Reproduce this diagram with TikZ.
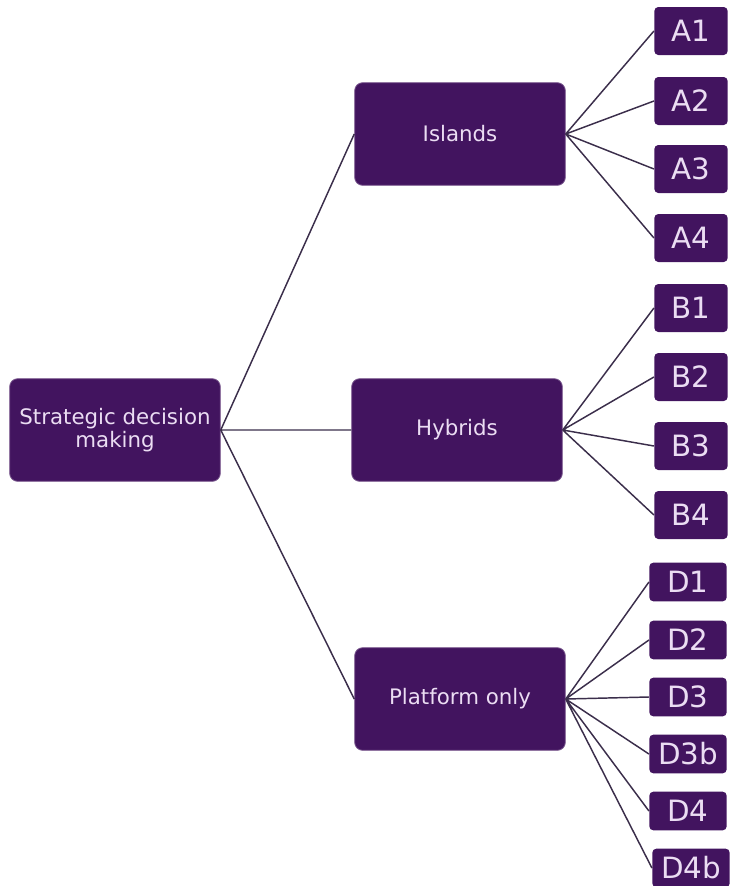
\documentclass[tikz,border=0pt]{standalone}
\usepackage{fontspec}
\setmainfont{DejaVu Sans}
\usetikzlibrary{positioning}
\definecolor{boxpurple}{HTML}{42145F}
\definecolor{boxtext}{HTML}{EBDDF3}
\definecolor{linkcol}{HTML}{3B2E4B}

\begin{document}
\begin{tikzpicture}[x=0.75pt,y=-0.75pt, semithick,
    mainbox/.style={rectangle,rounded corners=6pt,fill=boxpurple,draw=boxpurple!70!white,
      text=boxtext,minimum width=158pt,minimum height=77pt,align=center,inner sep=2pt,
      font=\fontsize{16}{17.5}\selectfont},
    leafbox/.style={rectangle,rounded corners=3pt,fill=boxpurple,text=boxtext,
      minimum width=55pt,minimum height=36pt,inner sep=1pt,font=\fontsize{22}{22}\selectfont},
    dbox/.style={leafbox,minimum width=58pt,minimum height=29pt},
    link/.style={draw=linkcol,line width=1.1pt}]
    \useasboundingbox (0,0) rectangle (729,886);
    \node [mainbox] (root) at (115,430) {Strategic decision\\making};
    \node [mainbox] (islands) at (460,134) {Islands};
    \node [mainbox] (hybrids) at (457,430) {Hybrids};
    \node [mainbox] (platform) at (460,699) {Platform only};
    % islands
    \node [leafbox] (a1) at (691,31) {A1};
    \node [leafbox] (a2) at (691,101) {A2};
    \node [leafbox] (a3) at (691,169) {A3};
    \node [leafbox] (a4) at (691,238) {A4};
    % hybrids
    \node [leafbox] (b1) at (691,308) {B1};
    \node [leafbox] (b2) at (691,377) {B2};
    \node [leafbox] (b3) at (691,446) {B3};
    \node [leafbox] (b4) at (691,515) {B4};
    % platform only
    \node [dbox] (d1) at (688,582) {D1};
    \node [dbox] (d2) at (688,640) {D2};
    \node [dbox] (d3) at (688,697) {D3};
    \node [dbox] (d3b) at (688,754) {D3b};
    \node [dbox] (d4) at (688,811) {D4};
    \node [dbox] (d4b) at (691,868) {D4b};
    \path [link]
    (root.east) -- (islands.west)
    (root.east) -- (hybrids.west)
    (root.east) -- (platform.west)
    (islands.east) -- (a1.west)
    (islands.east) -- (a2.west)
    (islands.east) -- (a3.west)
    (islands.east) -- (a4.west)
    (hybrids.east) -- (b1.west)
    (hybrids.east) -- (b2.west)
    (hybrids.east) -- (b3.west)
    (hybrids.east) -- (b4.west)
    (platform.east) -- (d1.west)
    (platform.east) -- (d2.west)
    (platform.east) -- (d3.west)
    (platform.east) -- (d3b.west)
    (platform.east) -- (d4.west)
    (platform.east) -- (d4b.west)
    ;
\end{tikzpicture}
\end{document}
